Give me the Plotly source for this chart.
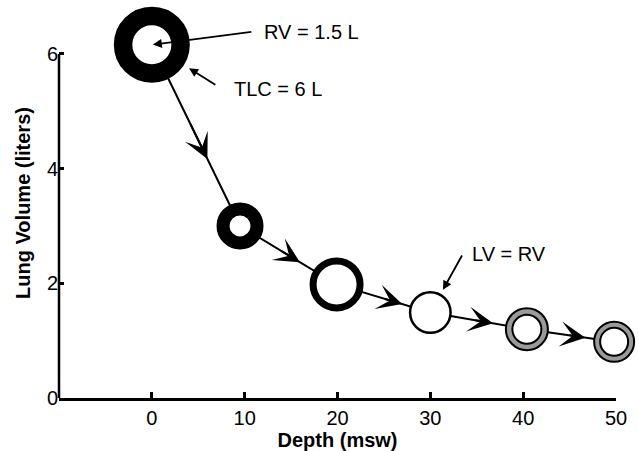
import plotly.graph_objects as go

# ---- data ----
depth = [0, 9.5, 19.9, 30.0, 40.4, 49.8]          # msw
volume = [6.16, 3.0, 1.98, 1.49, 1.2, 0.98]       # liters
x_ticks = [0, 10, 20, 30, 40, 50]
y_ticks = [0, 2, 4, 6]
label_rv = "RV = 1.5 L"
label_tlc = "TLC = 6 L"
label_lv = "LV = RV"
x_title = "Depth (msw)"
y_title = "Lung Volume (liters)"

# ---- styles ----
FONT = "Liberation Sans, Arial, Helvetica, sans-serif"
ring_size = [57.5, 34, 47, 40.5, 42, 40]
ring_width = [18.5, 13, 7, 2.5, 2, 2]
ring_fill = ["white", "white", "white", "white", "#9a9a9a", "#9a9a9a"]
inner_idx = [4, 5]
inner_size = [29, 28]
arrow_t = [0.63, 0.62, 0.70, 0.65, 0.67]
tail_back = 0.2
X_RANGE = [-10, 50]
Y_RANGE = [0, 6.8]

fig = go.Figure()

# connecting path
fig.add_trace(go.Scatter(x=depth, y=volume, mode="lines",
                         line=dict(color="black", width=2),
                         hoverinfo="skip", showlegend=False))

# rings
fig.add_trace(go.Scatter(x=depth, y=volume, mode="markers", cliponaxis=False,
                         marker=dict(symbol="circle", size=ring_size, color=ring_fill,
                                     opacity=1,
                                     line=dict(color="black", width=ring_width)),
                         showlegend=False))

# inner white disks of the gray rings
fig.add_trace(go.Scatter(x=[depth[i] for i in inner_idx], y=[volume[i] for i in inner_idx],
                         mode="markers", cliponaxis=False,
                         marker=dict(symbol="circle", size=inner_size, color="white",
                                     opacity=1,
                                     line=dict(color="black", width=2)),
                         showlegend=False))

annotations = []
# arrowheads along each segment
for k, t in enumerate(arrow_t):
    x0, y0 = depth[k], volume[k]
    x1, y1 = depth[k + 1], volume[k + 1]
    tx, ty = x0 + t * (x1 - x0), y0 + t * (y1 - y0)
    sx, sy = x0 + (t - tail_back) * (x1 - x0), y0 + (t - tail_back) * (y1 - y0)
    annotations.append(dict(x=tx, y=ty, ax=sx, ay=sy, xref="x", yref="y",
                            axref="x", ayref="y", text="", showarrow=True,
                            arrowhead=3, arrowsize=2.1, arrowwidth=2,
                            arrowcolor="black", standoff=0))

# label pointers (pixel offsets from the data points)
annotations.append(dict(x=depth[0], y=volume[0], ax=101, ay=-13, text="",
                        showarrow=True, arrowhead=2, arrowsize=1.0, arrowwidth=1.8,
                        arrowcolor="black", standoff=1))
annotations.append(dict(x=depth[0], y=volume[0], ax=65, ay=41, text="",
                        showarrow=True, arrowhead=2, arrowsize=1.0, arrowwidth=1.8,
                        arrowcolor="black", standoff=44))
annotations.append(dict(x=depth[3], y=volume[3], ax=32.5, ay=-58.5, text="",
                        showarrow=True, arrowhead=2, arrowsize=1.0, arrowwidth=1.8,
                        arrowcolor="black", standoff=26))

# label texts
lab_font = dict(family=FONT, size=20, color="black")
annotations.append(dict(x=depth[0], y=volume[0], text=label_rv, showarrow=False,
                        xanchor="left", yanchor="middle", xshift=110, yshift=13, font=lab_font))
annotations.append(dict(x=depth[0], y=volume[0], text=label_tlc, showarrow=False,
                        xanchor="left", yanchor="middle", xshift=80, yshift=-44, font=lab_font))
annotations.append(dict(x=depth[3], y=volume[3], text=label_lv, showarrow=False,
                        xanchor="left", yanchor="middle", xshift=39.5, yshift=59, font=lab_font))

# y axis line only from 0 to the top tick
shapes = [dict(type="line", xref="paper", yref="y", x0=0, x1=0,
               y0=Y_RANGE[0] - 0.02, y1=y_ticks[-1],
               line=dict(color="black", width=2.5), layer="above")]

fig.update_layout(
    width=638, height=451,
    margin=dict(l=59, r=22, t=8, b=53),
    paper_bgcolor="white", plot_bgcolor="white",
    font=dict(family=FONT, size=20, color="black"),
    annotations=annotations,
    shapes=shapes,
    showlegend=False,
)
fig.update_xaxes(range=X_RANGE, tickvals=x_ticks, ticks="inside", ticklen=6,
                 tickwidth=2.5, tickcolor="black", showline=True, linewidth=2.5,
                 linecolor="black", showgrid=False, zeroline=False,
                 tickfont=dict(family=FONT, size=20),
                 title=dict(text="<b>" + x_title + "</b>", standoff=0,
                            font=dict(family=FONT, size=20)))
fig.update_yaxes(range=Y_RANGE, tickvals=y_ticks, ticks="inside", ticklen=5,
                 tickwidth=2.5, tickcolor="black", showline=False,
                 showgrid=False, zeroline=False,
                 tickfont=dict(family=FONT, size=20),
                 title=dict(text="<b>" + y_title + "</b>", standoff=10,
                            font=dict(family=FONT, size=20)))

fig.write_html("out.html", config={"displayModeBar": False},
               post_script="document.body.style.margin='0';document.body.style.overflow='hidden';")
